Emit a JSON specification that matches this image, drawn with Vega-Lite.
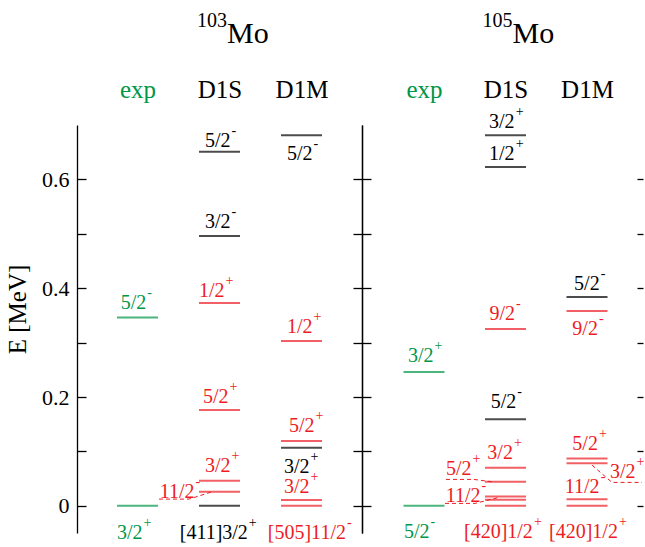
{
  "$schema": "https://vega.github.io/schema/vega-lite/v6.json",
  "padding": {"left": 5, "top": 11, "right": 0, "bottom": 0},
  "spacing": 0,
  "bounds": "flush",
  "config": {
    "view": {"stroke": null},
    "font": "Liberation Serif",
    "axis": {"labelFont": "Liberation Serif", "titleFont": "Liberation Serif", "grid": false, "domainColor": "black", "tickColor": "black", "labelColor": "black", "titleColor": "black", "domainWidth": 1.3, "tickWidth": 1.3, "labelOverlap": false},
    "text": {"font": "Liberation Serif"}
  },
  "datasets": {
    "levels": [
      {"n": "103", "x": 1, "E": 0, "s": "exp"},
      {"n": "103", "x": 1, "E": 0.346, "s": "exp"},
      {"n": "103", "x": 2, "E": 0.651, "s": "a"},
      {"n": "103", "x": 2, "E": 0.496, "s": "a"},
      {"n": "103", "x": 2, "E": 0, "s": "a"},
      {"n": "103", "x": 2, "E": 0.3726, "s": "b"},
      {"n": "103", "x": 2, "E": 0.176, "s": "b"},
      {"n": "103", "x": 2, "E": 0.046, "s": "b"},
      {"n": "103", "x": 2, "E": 0.0257, "s": "b"},
      {"n": "103", "x": 3, "E": 0.681, "s": "a"},
      {"n": "103", "x": 3, "E": 0.1066, "s": "a"},
      {"n": "103", "x": 3, "E": 0.303, "s": "b"},
      {"n": "103", "x": 3, "E": 0.119, "s": "b"},
      {"n": "103", "x": 3, "E": 0.0105, "s": "b"},
      {"n": "103", "x": 3, "E": 0, "s": "b"},
      {"n": "105", "x": 1, "E": 0, "s": "exp"},
      {"n": "105", "x": 1, "E": 0.246, "s": "exp"},
      {"n": "105", "x": 2, "E": 0.681, "s": "a"},
      {"n": "105", "x": 2, "E": 0.623, "s": "a"},
      {"n": "105", "x": 2, "E": 0.159, "s": "a"},
      {"n": "105", "x": 2, "E": 0.325, "s": "b"},
      {"n": "105", "x": 2, "E": 0.070, "s": "b"},
      {"n": "105", "x": 2, "E": 0.044, "s": "b"},
      {"n": "105", "x": 2, "E": 0.017, "s": "b"},
      {"n": "105", "x": 2, "E": 0.011, "s": "b"},
      {"n": "105", "x": 2, "E": 0, "s": "b"},
      {"n": "105", "x": 3, "E": 0.384, "s": "a"},
      {"n": "105", "x": 3, "E": 0.358, "s": "b"},
      {"n": "105", "x": 3, "E": 0.087, "s": "b"},
      {"n": "105", "x": 3, "E": 0.078, "s": "b"},
      {"n": "105", "x": 3, "E": 0.012, "s": "b"},
      {"n": "105", "x": 3, "E": 0, "s": "b"}
    ],
    "labels": [
      {"n": "103", "x": 1.107, "E": 0.3616, "t": "5/2", "p": "-", "s": "exp"},
      {"n": "103", "x": 1.062, "E": -0.0612, "t": "3/2", "p": "+", "s": "exp"},
      {"n": "103", "x": 2.135, "E": 0.6594, "t": "5/2", "p": "-", "s": "a"},
      {"n": "103", "x": 2.135, "E": 0.5105, "t": "3/2", "p": "-", "s": "a"},
      {"n": "103", "x": 2.062, "E": 0.3837, "t": "1/2", "p": "+", "s": "b"},
      {"n": "103", "x": 2.111, "E": 0.1889, "t": "5/2", "p": "+", "s": "b"},
      {"n": "103", "x": 2.135, "E": 0.0619, "t": "3/2", "p": "+", "s": "b"},
      {"n": "103", "x": 1.696, "E": 0.0142, "t": "11/2", "p": "-", "s": "b"},
      {"n": "103", "x": 2.346, "E": -0.0612, "t": "[411]3/2", "p": "+", "s": "a"},
      {"n": "103", "x": 3.135, "E": 0.6351, "t": "5/2", "p": "-", "s": "a"},
      {"n": "103", "x": 3.135, "E": 0.3175, "t": "1/2", "p": "+", "s": "b"},
      {"n": "103", "x": 3.16, "E": 0.1355, "t": "5/2", "p": "+", "s": "b"},
      {"n": "103", "x": 3.099, "E": 0.0601, "t": "3/2", "p": "+", "s": "a"},
      {"n": "103", "x": 3.099, "E": 0.0233, "t": "3/2", "p": "+", "s": "b"},
      {"n": "103", "x": 3.542, "E": -0.0612, "t": "[505]11/2", "p": "-", "s": "b"},
      {"n": "105", "x": 1.118, "E": 0.2642, "t": "3/2", "p": "+", "s": "exp"},
      {"n": "105", "x": 1.069, "E": -0.0601, "t": "5/2", "p": "-", "s": "exp"},
      {"n": "105", "x": 2.112, "E": 0.6943, "t": "3/2", "p": "+", "s": "a"},
      {"n": "105", "x": 2.112, "E": 0.6354, "t": "1/2", "p": "+", "s": "a"},
      {"n": "105", "x": 2.118, "E": 0.3414, "t": "9/2", "p": "-", "s": "b"},
      {"n": "105", "x": 2.132, "E": 0.1796, "t": "5/2", "p": "-", "s": "a"},
      {"n": "105", "x": 2.091, "E": 0.0858, "t": "3/2", "p": "+", "s": "b"},
      {"n": "105", "x": 1.584, "E": 0.0564, "t": "5/2", "p": "+", "s": "b"},
      {"n": "105", "x": 1.694, "E": 0.0068, "t": "11/2", "p": "-", "s": "b"},
      {"n": "105", "x": 2.336, "E": -0.0601, "t": "[420]1/2", "p": "+", "s": "b"},
      {"n": "105", "x": 3.155, "E": 0.3965, "t": "5/2", "p": "-", "s": "a"},
      {"n": "105", "x": 3.134, "E": 0.3138, "t": "9/2", "p": "-", "s": "b"},
      {"n": "105", "x": 3.134, "E": 0.1024, "t": "5/2", "p": "+", "s": "b"},
      {"n": "105", "x": 3.595, "E": 0.0509, "t": "3/2", "p": "+", "s": "b"},
      {"n": "105", "x": 3.155, "E": 0.0234, "t": "11/2", "p": "-", "s": "b"},
      {"n": "105", "x": 3.379, "E": -0.0601, "t": "[420]1/2", "p": "+", "s": "b"}
    ],
    "titles": [
      {"n": "103", "x": 2.091, "E": 0.8505, "t": "Mo", "p": "103"},
      {"n": "105", "x": 2.086, "E": 0.8505, "t": "Mo", "p": "105"}
    ],
    "links": [
      {"n": "103", "id": "c1", "o": 1, "x": 1.262, "E": 0.0123},
      {"n": "103", "id": "c1", "o": 2, "x": 1.628, "E": 0.0123},
      {"n": "103", "id": "c1", "o": 3, "x": 1.9085, "E": 0.0257},
      {"n": "105", "id": "c2", "o": 1, "x": 1.270, "E": 0.0485},
      {"n": "105", "id": "c2", "o": 2, "x": 1.613, "E": 0.0485},
      {"n": "105", "id": "c2", "o": 3, "x": 1.834, "E": 0.0441},
      {"n": "105", "id": "c3", "o": 1, "x": 1.258, "E": 0.0044},
      {"n": "105", "id": "c3", "o": 2, "x": 1.626, "E": 0.0044},
      {"n": "105", "id": "c3", "o": 3, "x": 1.920, "E": 0.0154},
      {"n": "105", "id": "c4", "o": 1, "x": 3.061, "E": 0.0748},
      {"n": "105", "id": "c4", "o": 2, "x": 3.307, "E": 0.043},
      {"n": "105", "id": "c4", "o": 3, "x": 3.675, "E": 0.043}
    ]
  },
  "hconcat": [
    {
      "width": 285,
      "height": 408,
      "encoding": {
        "x": {"field": "x", "type": "quantitative", "scale": {"domain": [0.2622, 3.7378], "nice": false, "zero": false},
          "axis": {"orient": "top", "values": [1, 2, 3], "labelExpr": "datum.value == 1 ? 'exp' : datum.value == 2 ? 'D1S' : 'D1M'", "ticks": false, "domain": false, "title": null, "labelFont": "Liberation Serif", "labelFontSize": 25, "labelPadding": 28, "labelBaseline": "alphabetic", "labelFlush": false,
            "labelColor": {"condition": {"test": "datum.value == 1", "value": "#009647"}, "value": "black"}}}
      },
      "layer": [
        {
          "data": {"name": "levels"},
          "transform": [{"filter": "datum.n == '103'"}],
          "mark": {"type": "tick", "orient": "horizontal", "size": 41, "thickness": 2},
          "encoding": {
            "y": {"field": "E", "type": "quantitative", "scale": {"domain": [-0.05, 0.7], "nice": false, "zero": false},
              "axis": {"orient": "left", "values": [0, 0.1, 0.2, 0.3, 0.4, 0.5, 0.6], "format": ".1~f", "labelExpr": "round(datum.value * 10) % 2 == 0 ? datum.label : ''", "tickSize": -9, "labelPadding": 17, "labelFont": "Liberation Serif", "labelFontSize": 22, "title": "E [MeV]", "titleFont": "Liberation Serif", "titleFontSize": 25, "titleFontWeight": "normal", "titleAngle": 270, "titleBaseline": "alphabetic", "titleX": -52, "titleY": 184}},
            "color": {"field": "s", "type": "nominal", "scale": {"domain": ["exp", "a", "b"], "range": ["#009647", "#000000", "#ed1c24"]}, "legend": null}
          }
        },
        {
          "data": {"name": "labels"},
          "transform": [{"filter": "datum.n == '103'"}],
          "mark": {"type": "text", "baseline": "alphabetic", "align": "right", "fontSize": 20, "font": "Liberation Serif"},
          "encoding": {
            "y": {"field": "E", "type": "quantitative", "scale": {"domain": [-0.05, 0.7], "nice": false, "zero": false},
              "axis": {"orient": "right", "values": [0, 0.1, 0.2, 0.3, 0.4, 0.5, 0.6], "labels": false, "tickSize": -9, "title": null}},
            "text": {"field": "t"},
            "color": {"field": "s", "type": "nominal", "scale": {"domain": ["exp", "a", "b"], "range": ["#009647", "#000000", "#ed1c24"]}, "legend": null}
          }
        },
        {
          "data": {"name": "labels"},
          "transform": [{"filter": "datum.n == '103'"}],
          "mark": {"type": "text", "baseline": "alphabetic", "align": "left", "fontSize": 14, "dx": 1, "dy": -12, "font": "Liberation Serif"},
          "encoding": {
            "y": {"field": "E", "type": "quantitative", "scale": {"domain": [-0.05, 0.7], "nice": false, "zero": false}, "axis": null},
            "text": {"field": "p"},
            "color": {"field": "s", "type": "nominal", "scale": {"domain": ["exp", "a", "b"], "range": ["#009647", "#000000", "#ed1c24"]}, "legend": null}
          }
        },
        {
          "data": {"name": "links"},
          "transform": [{"filter": "datum.n == '103'"}],
          "mark": {"type": "line", "strokeDash": [4, 3], "strokeWidth": 1, "color": "#ed1c24"},
          "encoding": {
            "y": {"field": "E", "type": "quantitative", "scale": {"domain": [-0.05, 0.7], "nice": false, "zero": false}, "axis": null},
            "detail": {"field": "id"},
            "order": {"field": "o"}
          }
        },
        {
          "data": {"name": "titles"},
          "transform": [{"filter": "datum.n == '103'"}],
          "mark": {"type": "text", "baseline": "alphabetic", "align": "left", "fontSize": 30, "font": "Liberation Serif", "color": "black", "clip": false},
          "encoding": {
            "y": {"field": "E", "type": "quantitative", "scale": {"domain": [-0.05, 0.7], "nice": false, "zero": false}, "axis": null},
            "text": {"field": "t"}
          }
        },
        {
          "data": {"name": "titles"},
          "transform": [{"filter": "datum.n == '103'"}],
          "mark": {"type": "text", "baseline": "alphabetic", "align": "right", "fontSize": 20, "dy": -16, "font": "Liberation Serif", "color": "black", "clip": false},
          "encoding": {
            "y": {"field": "E", "type": "quantitative", "scale": {"domain": [-0.05, 0.7], "nice": false, "zero": false}, "axis": null},
            "text": {"field": "p"}
          }
        }
      ],
      "resolve": {"scale": {"y": "independent"}, "axis": {"y": "independent"}}
    },
    {
      "width": 281,
      "height": 408,
      "encoding": {
        "x": {"field": "x", "type": "quantitative", "scale": {"domain": [0.2393, 3.6871], "nice": false, "zero": false},
          "axis": {"orient": "top", "values": [1, 2, 3], "labelExpr": "datum.value == 1 ? 'exp' : datum.value == 2 ? 'D1S' : 'D1M'", "ticks": false, "domain": false, "title": null, "labelFont": "Liberation Serif", "labelFontSize": 25, "labelPadding": 28, "labelBaseline": "alphabetic", "labelFlush": false,
            "labelColor": {"condition": {"test": "datum.value == 1", "value": "#009647"}, "value": "black"}}}
      },
      "layer": [
        {
          "data": {"name": "levels"},
          "transform": [{"filter": "datum.n == '105'"}],
          "mark": {"type": "tick", "orient": "horizontal", "size": 41, "thickness": 2},
          "encoding": {
            "y": {"field": "E", "type": "quantitative", "scale": {"domain": [-0.05, 0.7], "nice": false, "zero": false},
              "axis": {"orient": "left", "values": [0, 0.1, 0.2, 0.3, 0.4, 0.5, 0.6], "labels": false, "tickSize": -9, "title": null}},
            "color": {"field": "s", "type": "nominal", "scale": {"domain": ["exp", "a", "b"], "range": ["#009647", "#000000", "#ed1c24"]}, "legend": null}
          }
        },
        {
          "data": {"name": "labels"},
          "transform": [{"filter": "datum.n == '105'"}],
          "mark": {"type": "text", "baseline": "alphabetic", "align": "right", "fontSize": 20, "font": "Liberation Serif"},
          "encoding": {
            "y": {"field": "E", "type": "quantitative", "scale": {"domain": [-0.05, 0.7], "nice": false, "zero": false},
              "axis": {"orient": "right", "values": [0, 0.1, 0.2, 0.3, 0.4, 0.5, 0.6], "labels": false, "tickSize": -6, "domain": false, "title": null}},
            "text": {"field": "t"},
            "color": {"field": "s", "type": "nominal", "scale": {"domain": ["exp", "a", "b"], "range": ["#009647", "#000000", "#ed1c24"]}, "legend": null}
          }
        },
        {
          "data": {"name": "labels"},
          "transform": [{"filter": "datum.n == '105'"}],
          "mark": {"type": "text", "baseline": "alphabetic", "align": "left", "fontSize": 14, "dx": 1, "dy": -12, "font": "Liberation Serif"},
          "encoding": {
            "y": {"field": "E", "type": "quantitative", "scale": {"domain": [-0.05, 0.7], "nice": false, "zero": false}, "axis": null},
            "text": {"field": "p"},
            "color": {"field": "s", "type": "nominal", "scale": {"domain": ["exp", "a", "b"], "range": ["#009647", "#000000", "#ed1c24"]}, "legend": null}
          }
        },
        {
          "data": {"name": "links"},
          "transform": [{"filter": "datum.n == '105'"}],
          "mark": {"type": "line", "strokeDash": [4, 3], "strokeWidth": 1, "color": "#ed1c24"},
          "encoding": {
            "y": {"field": "E", "type": "quantitative", "scale": {"domain": [-0.05, 0.7], "nice": false, "zero": false}, "axis": null},
            "detail": {"field": "id"},
            "order": {"field": "o"}
          }
        },
        {
          "data": {"name": "titles"},
          "transform": [{"filter": "datum.n == '105'"}],
          "mark": {"type": "text", "baseline": "alphabetic", "align": "left", "fontSize": 30, "font": "Liberation Serif", "color": "black", "clip": false},
          "encoding": {
            "y": {"field": "E", "type": "quantitative", "scale": {"domain": [-0.05, 0.7], "nice": false, "zero": false}, "axis": null},
            "text": {"field": "t"}
          }
        },
        {
          "data": {"name": "titles"},
          "transform": [{"filter": "datum.n == '105'"}],
          "mark": {"type": "text", "baseline": "alphabetic", "align": "right", "fontSize": 20, "dy": -16, "font": "Liberation Serif", "color": "black", "clip": false},
          "encoding": {
            "y": {"field": "E", "type": "quantitative", "scale": {"domain": [-0.05, 0.7], "nice": false, "zero": false}, "axis": null},
            "text": {"field": "p"}
          }
        }
      ],
      "resolve": {"scale": {"y": "independent"}, "axis": {"y": "independent"}}
    }
  ]
}
